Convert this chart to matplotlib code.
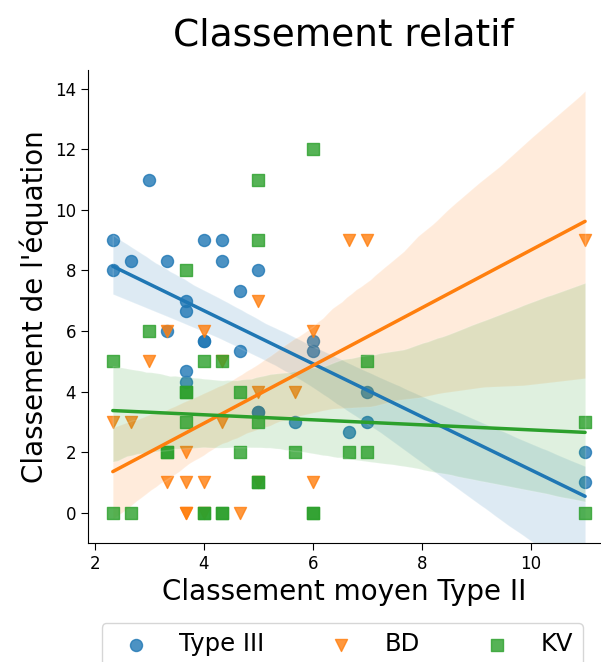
import numpy as np
import matplotlib
matplotlib.use('Agg')
import matplotlib.pyplot as plt
import seaborn as sns

# Type III
x_t3 = [2.33, 2.33, 2.67, 3, 3.33, 3.33, 3.67, 3.67, 3.67, 3.67, 4, 4, 4, 4.33, 4.33,
        4.67, 4.67, 5, 5, 5, 5.67, 6, 6, 6.67, 7, 7, 11, 11]
y_t3 = [9, 8, 8.33, 11, 8.33, 6, 7, 6.67, 4.67, 4.33, 9, 5.67, 5.67, 9, 8.33,
        7.33, 5.33, 8, 3.33, 3.33, 3, 5.67, 5.33, 2.67, 4, 3, 2, 1]

# BD (some triangles sit under squares / on top of each other)
x_bd = [2.33, 2.67, 3, 3.33, 3.33, 3.67, 3.67, 3.67, 3.67, 4, 4, 4, 4.33, 4.33, 4.67,
        5, 5, 5, 5.67, 6, 6, 6.67, 7, 11]
y_bd = [3, 3, 5, 6, 1, 2, 1, 0, 0, 6, 1, 0, 5, 3, 0,
        7, 4, 1, 4, 6, 1, 9, 9, 9]

# KV (overlapping squares counted twice)
x_kv = [2.33, 2.33, 2.67, 3, 3.33, 3.33, 3.67, 3.67, 3.67, 3.67, 4, 4, 4, 4.33, 4.33, 4.33,
        4.67, 4.67, 5, 5, 5, 5, 5, 5.67, 6, 6, 6, 6.67, 7, 7, 11, 11]
y_kv = [5, 0, 0, 6, 2, 2, 8, 4, 4, 3, 5, 0, 0, 5, 0, 0,
        4, 2, 11, 9, 3, 1, 1, 2, 12, 0, 0, 2, 2, 5, 3, 0]

series = [('Type III', x_t3, y_t3, 'o'),
          ('BD', x_bd, y_bd, 'v'),
          ('KV', x_kv, y_kv, 's')]
colors = sns.color_palette()

sns.set_style('ticks')
plt.rcParams['font.family'] = ['DejaVu Sans']
for k in ['text.color', 'axes.labelcolor', 'xtick.color', 'ytick.color', 'axes.edgecolor']:
    plt.rcParams[k] = 'black'

fig = plt.figure(figsize=(6.01, 6.62), dpi=100)
ax = fig.add_axes([0.146, 0.180, 0.852, 0.714])

for i, (name, xs, ys, mk) in enumerate(series):
    sns.regplot(x=np.array(xs), y=np.array(ys), ax=ax, marker=mk, color=colors[i],
                label=name, seed=0, scatter_kws={'s': 75, 'alpha': 0.8},
                line_kws={'lw': 2.5})

ax.set_xlim(1.87, 11.27)
ax.set_ylim(-1, 14.62)
ax.set_xticks([2, 4, 6, 8, 10])
ax.set_yticks(range(0, 15, 2))
ax.tick_params(labelsize=12, length=5)
sns.despine(ax=ax)

ax.set_title('Classement relatif', fontsize=27, pad=18)
ax.set_xlabel('Classement moyen Type II', fontsize=20)
ax.set_ylabel("Classement de l'équation", fontsize=20)

ax.legend(loc='upper left', bbox_to_anchor=(0.027, -0.169, 0.94, 0), mode='expand',
          ncol=3, fontsize=17.5, borderaxespad=0, frameon=True)

fig.savefig('out.png', dpi=100)
